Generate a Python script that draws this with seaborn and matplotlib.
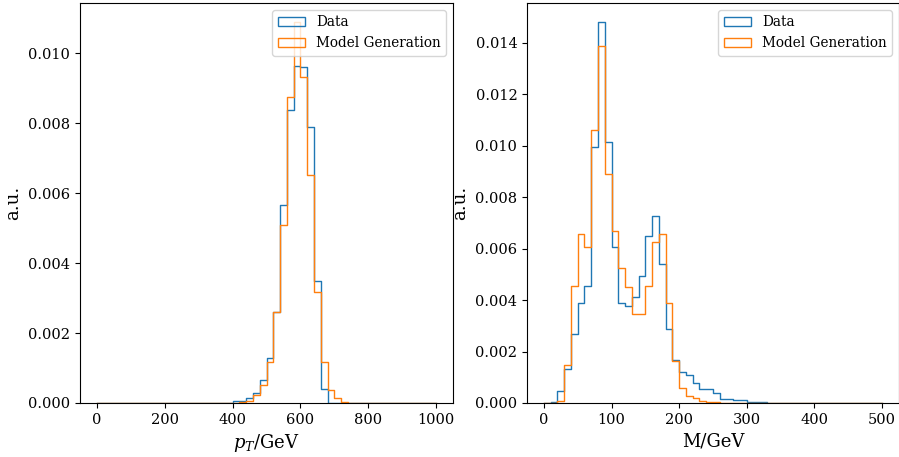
"""
Data vs model generation: pT and mass histograms (density, step)
"""
import numpy as np
import pandas as pd
import seaborn as sns
import matplotlib
matplotlib.use('Agg')
import matplotlib.pyplot as plt
from matplotlib.patches import Patch

# pT: 50 bins, 0-1000 GeV, width 20
PT_RANGE = (0, 1000)
PT_BINW = 20
PT_DATA = [0] * 20 + [
    0.00006, 0.00005, 0.00013, 0.00030, 0.00066, 0.00128, 0.00260, 0.00566,
    0.00839, 0.00964, 0.00960, 0.00790, 0.00349, 0.00039,
] + [0] * 16
PT_MODEL = [0] * 20 + [
    0.0, 0.00003, 0.00005, 0.00023, 0.00051, 0.00118, 0.00260, 0.00509,
    0.00875, 0.01089, 0.00932, 0.00651, 0.00316, 0.00118, 0.00037, 0.00015,
    0.00004,
] + [0] * 13

# M: 50 bins, 0-500 GeV, width 10
M_RANGE = (0, 500)
M_BINW = 10
M_DATA = [
    0.0, 0.00003, 0.00045, 0.00133, 0.00270, 0.00389, 0.00455, 0.00997,
    0.01481, 0.01014, 0.00608, 0.00390, 0.00377, 0.00413, 0.00494, 0.00650,
    0.00728, 0.00542, 0.00288, 0.00169, 0.00121, 0.00108, 0.00076, 0.00055,
    0.00055, 0.00037, 0.00016, 0.00016, 0.00012, 0.00012, 0.00004, 0.00004,
    0.00004,
] + [0] * 17
M_MODEL = [
    0.0, 0.0, 0.00008, 0.00149, 0.00455, 0.00656, 0.00608, 0.01063,
    0.01387, 0.00890, 0.00667, 0.00526, 0.00451, 0.00347, 0.00347, 0.00455,
    0.00624, 0.00656, 0.00390, 0.00165, 0.00060, 0.00026, 0.00020, 0.00009,
    0.00004, 0.00005,
] + [0] * 24

SERIES = ['Data', 'Model Generation']
COLORS = ['#1f77b4', '#ff7f0e']

plt.rcParams['font.family'] = ['DejaVu Serif']
plt.rcParams['mathtext.fontset'] = 'dejavuserif'


def draw(ax, rng, binw, data, model, xlabel):
    # bin centres carry the read heights as weights
    centers = np.arange(rng[0], rng[1], binw) + binw / 2
    for name, vals, color in zip(SERIES, [data, model], COLORS):
        df = pd.DataFrame({'x': centers, 'w': vals})
        sns.histplot(data=df, x='x', weights='w', binwidth=binw, binrange=rng,
                     stat='count', element='step', fill=False, color=color,
                     linewidth=1.0, ax=ax)
    span = rng[1] - rng[0]
    ax.set_xlim(rng[0] - 0.05 * span, rng[1] + 0.05 * span)
    ax.set_ylim(0, max(max(data), max(model)) * 1.05)
    ax.set_xlabel(xlabel, fontsize=13)
    ax.set_ylabel('a.u.', fontsize=13)
    ax.tick_params(labelsize=10.5)
    ax.yaxis.set_major_formatter(matplotlib.ticker.FormatStrFormatter('%.3f'))
    handles = [Patch(facecolor='none', edgecolor=c, label=n)
               for n, c in zip(SERIES, COLORS)]
    ax.legend(handles=handles, loc='upper right', fontsize=9.8)


fig = plt.figure(figsize=(8.99, 4.57), dpi=100)
ax1 = fig.add_axes([80 / 899, 54 / 457, 373 / 899, 400 / 457])
ax2 = fig.add_axes([527 / 899, 54 / 457, 372 / 899, 400 / 457])

draw(ax1, PT_RANGE, PT_BINW, PT_DATA, PT_MODEL, r'$p_T$/GeV')
draw(ax2, M_RANGE, M_BINW, M_DATA, M_MODEL, 'M/GeV')

fig.savefig('out.png', dpi=100)
